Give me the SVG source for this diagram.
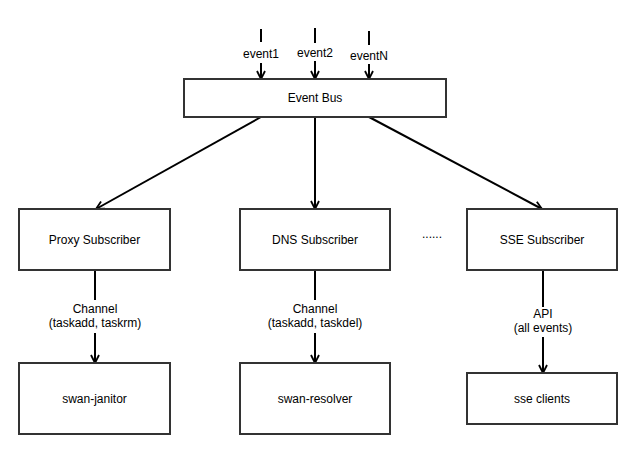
<svg xmlns="http://www.w3.org/2000/svg" width="637" height="454" viewBox="0 0 637 454">
<style>
.box{fill:#fff;stroke:#333;stroke-width:2}
.ln{fill:none;stroke:#000;stroke-width:2}
.t{font-family:"Liberation Sans",Arial,sans-serif;font-size:12px;fill:#000;text-anchor:middle}
</style>
<defs>
<marker id="arr" markerUnits="userSpaceOnUse" markerWidth="12" markerHeight="12" viewBox="-10 -6 12 12" refX="0" refY="0" orient="auto" overflow="visible">
<path d="M-8,-4 L0,0 L-8,4" fill="none" stroke="#000" stroke-width="1.8" stroke-linejoin="miter"/>
</marker>
</defs>
<rect width="637" height="454" fill="#fff"/>
<g id="connectors">
<line class="ln" x1="261" y1="29" x2="261" y2="42"/>
<line class="ln" x1="261" y1="63" x2="261" y2="79" marker-end="url(#arr)"/>
<line class="ln" x1="315" y1="28" x2="315" y2="43"/>
<line class="ln" x1="315" y1="61" x2="315" y2="79" marker-end="url(#arr)"/>
<line class="ln" x1="369" y1="31" x2="369" y2="45"/>
<line class="ln" x1="369" y1="64" x2="369" y2="79" marker-end="url(#arr)"/>
<line class="ln" x1="261" y1="117" x2="96" y2="209" marker-end="url(#arr)"/>
<line class="ln" x1="315" y1="117" x2="315" y2="209" marker-end="url(#arr)"/>
<line class="ln" x1="369" y1="117" x2="542" y2="209" marker-end="url(#arr)"/>
<line class="ln" x1="95" y1="270" x2="95" y2="300"/>
<line class="ln" x1="95" y1="333" x2="95" y2="363" marker-end="url(#arr)"/>
<line class="ln" x1="315" y1="270" x2="315" y2="300"/>
<line class="ln" x1="315" y1="333" x2="315" y2="363" marker-end="url(#arr)"/>
<line class="ln" x1="543" y1="270" x2="543" y2="307"/>
<line class="ln" x1="543" y1="337" x2="543" y2="373" marker-end="url(#arr)"/>
<text class="t" x="261" y="58">event1</text>
<text class="t" x="315" y="57">event2</text>
<text class="t" x="369" y="60">eventN</text>
<text class="t" x="95" y="313">Channel</text>
<text class="t" x="95" y="327">(taskadd, taskrm)</text>
<text class="t" x="315" y="313">Channel</text>
<text class="t" x="315" y="327">(taskadd, taskdel)</text>
<text class="t" x="543" y="318">API</text>
<text class="t" x="543" y="332">(all events)</text>
</g>
<g id="event-bus">
<rect class="box" x="184" y="79" width="262" height="38"/>
<text class="t" x="315" y="102">Event Bus</text>
</g>
<g id="proxy-subscriber">
<rect class="box" x="19" y="209" width="151" height="61"/>
<text class="t" x="94.5" y="244">Proxy Subscriber</text>
</g>
<g id="dns-subscriber">
<rect class="box" x="240" y="209" width="150" height="61"/>
<text class="t" x="315" y="244">DNS Subscriber</text>
</g>
<g id="sse-subscriber">
<rect class="box" x="467" y="209" width="150" height="61"/>
<text class="t" x="542" y="244">SSE Subscriber</text>
</g>
<g id="ellipsis">
<text class="t" x="432" y="238">......</text>
</g>
<g id="swan-janitor">
<rect class="box" x="19" y="363" width="151" height="71"/>
<text class="t" x="94.5" y="403">swan-janitor</text>
</g>
<g id="swan-resolver">
<rect class="box" x="240" y="363" width="150" height="71"/>
<text class="t" x="315" y="403">swan-resolver</text>
</g>
<g id="sse-clients">
<rect class="box" x="467" y="373" width="150" height="51"/>
<text class="t" x="542" y="403">sse clients</text>
</g>
</svg>
